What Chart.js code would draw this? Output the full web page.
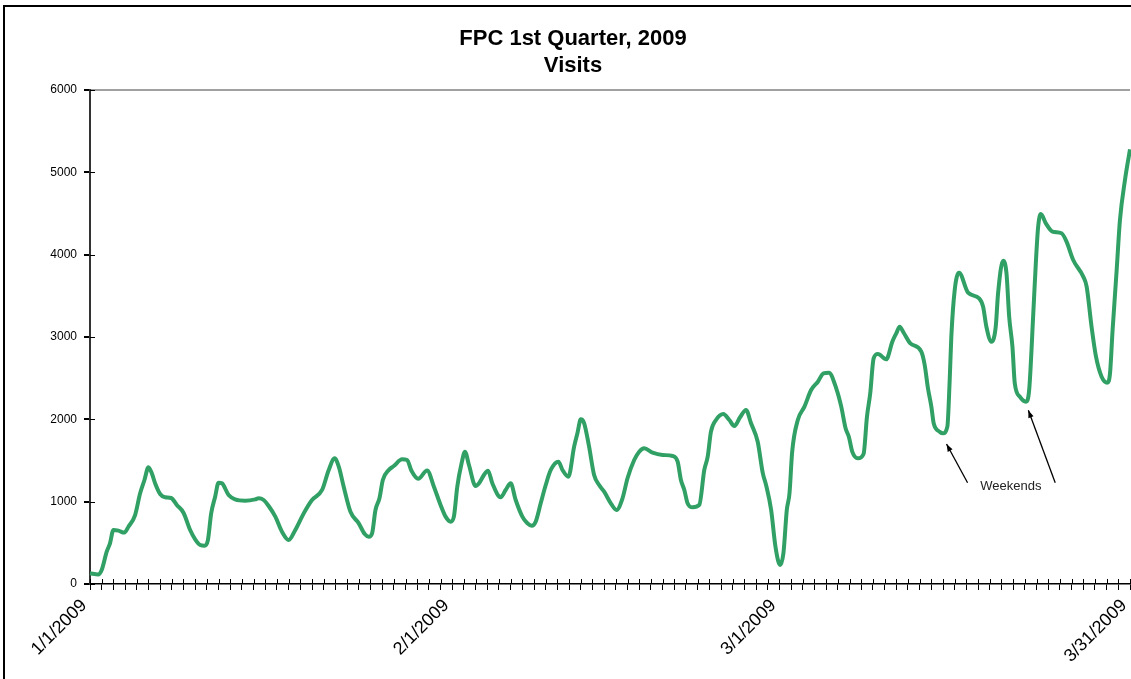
<!DOCTYPE html>
<html>
<head>
<meta charset="utf-8">
<title>FPC 1st Quarter, 2009 - Visits</title>
<script src="https://cdn.jsdelivr.net/npm/chart.js@4.4.1/dist/chart.umd.min.js"></script>
<style>
  html, body { margin: 0; padding: 0; background: #fff; }
  #wrap { position: relative; width: 1131px; height: 679px; }
  #frame {
    position: absolute; left: 3px; top: 5px; right: -10px; bottom: -10px;
    border-top: 2px solid #000; border-left: 2px solid #000;
    pointer-events: none;
  }
</style>
</head>
<body>
<div id="wrap">
  <canvas id="grafico" width="1131" height="679"></canvas>
  <div id="frame"></div>
</div>
<script>
// dia do trimestre (0 = 1/1/2009) e visitas
const dias = [
  0, 0.7, 1, 1.43, 1.71, 2, 2.43, 2.94, 3.29, 3.86, 4.29, 4.66, 5, 5.29, 5.57, 6, 6.43, 6.94, 7.43, 8,
  8.57, 9, 9.43, 9.8, 10.09, 10.37, 10.71, 11, 11.29, 11.86, 12.43, 13.29, 14.14, 14.43, 14.86, 15.29, 15.86, 16.43, 17, 17.57,
  18.29, 19, 19.86, 20.43, 20.94, 21.29, 21.71, 22.29, 23, 23.51, 23.86, 24.14, 24.43, 24.77, 25.06, 25.57, 26, 26.71, 27.14, 27.51,
  28.09, 28.85, 29.43, 30, 30.43, 30.86, 31.14, 31.43, 31.8, 32.09, 32.43, 33, 33.29, 33.71, 34.06, 34.43, 35.14, 35.57, 36, 36.43,
  37, 37.43, 37.8, 38.14, 38.57, 39, 39.43, 40.09, 40.43, 40.94, 41.43, 41.71, 42, 42.29, 42.71, 43.14, 43.57, 44, 44.57, 45.06,
  45.57, 46, 46.57, 47, 47.43, 48.14, 49, 49.86, 50.29, 50.57, 50.86, 51.14, 51.57, 52.14, 52.57, 52.86, 53.14, 53.57, 54.2, 54.71,
  55.14, 55.63, 56.14, 56.57, 57.14, 57.57, 57.86, 58.29, 58.66, 59.06, 59.34, 59.63, 59.86, 60.09, 60.57, 61.14, 61.71, 62.29, 62.77, 63.23,
  63.86, 64.29, 64.66, 64.94, 65.23, 65.71, 66.2, 66.49, 66.77, 67.06, 67.43, 68.14, 68.66, 69, 69.29, 69.63, 70.2, 71.14, 71.43, 71.71,
  72, 72.2, 72.71, 73, 73.37, 73.57, 73.71, 74, 74.37, 75.14, 76.09, 76.43, 76.71, 77.14, 77.51, 77.71, 78.14, 78.43, 78.66, 78.94,
  79.14, 79.57, 80.09, 80.37, 80.71, 80.94, 81.14, 81.37, 81.8, 82.37, 83.14, 83.57, 84.14, 85, 85.29, 85.71, 86.09, 86.57, 87.06, 87.29,
  87.51, 87.86, 88.14, 88.57, 89
];
const visitas = [
  130, 115, 170, 392, 494, 656, 648, 624, 696, 838, 1101, 1263, 1417, 1344, 1223, 1093, 1053, 1045, 960, 866,
  656, 543, 474, 466, 534, 858, 1060, 1231, 1223, 1081, 1028, 1012, 1028, 1041, 1020, 947, 818, 635, 534, 656,
  858, 1020, 1142, 1385, 1526, 1425, 1182, 878, 737, 607, 575, 616, 899, 1041, 1263, 1385, 1433, 1514, 1506, 1376,
  1279, 1380, 1182, 960, 818, 757, 818, 1182, 1466, 1607, 1445, 1190, 1223, 1324, 1376, 1223, 1053, 1142, 1223, 1020,
  818, 737, 708, 757, 980, 1202, 1385, 1486, 1385, 1303, 1668, 1830, 2000, 1952, 1668, 1324, 1202, 1121, 980, 899,
  1041, 1284, 1506, 1607, 1648, 1595, 1567, 1555, 1486, 1263, 1142, 980, 931, 960, 1385, 1546, 1850, 1992, 2065, 1992,
  1919, 2025, 2113, 1952, 1728, 1350, 1200, 899, 453, 231, 373, 899, 1101, 1607, 1992, 2154, 2356, 2457, 2559, 2567,
  2377, 2154, 1891, 1789, 1607, 1526, 1579, 2032, 2316, 2741, 2794, 2729, 2943, 3045, 3125, 3052, 2923, 2822, 2660, 2377,
  2154, 1952, 1850, 1830, 1911, 2478, 3004, 3571, 3781, 3538, 3470, 3368, 3125, 2943, 3125, 3531, 3927, 3774, 3247, 2882,
  2438, 2275, 2214, 2356, 3247, 3895, 4340, 4494, 4381, 4280, 4260, 4158, 3935, 3733, 3611, 3125, 2761, 2518, 2445, 2559,
  3085, 3814, 4421, 4907, 5280
];

// rótulos do eixo x (dia -> texto)
const diasRotulo = [0, 31, 59, 89];
const rotulosX = ["1/1/2009", "2/1/2009", "3/1/2009", "3/31/2009"];
const ticksY = [0, 1000, 2000, 3000, 4000, 5000, 6000];

// anotação "Weekends"
const notaTexto = "Weekends";
const notaPos = [78.8, 1190];
const setas = [
  [75.1, 1230, 73.3, 1700],
  [82.6, 1230, 80.3, 2110]
];

const fonte = "'Liberation Sans', Arial, sans-serif";

// marcas de escala que cruzam o eixo (estilo Excel)
const marcasCruzadas = {
  id: "marcasCruzadas",
  afterDraw(chart) {
    const ctx = chart.ctx;
    const x = chart.scales.x, y = chart.scales.y;
    ctx.save();
    ctx.strokeStyle = "#000";
    ctx.lineWidth = 1;
    ctx.beginPath();
    x.ticks.forEach((t, i) => {
      const px = Math.round(x.getPixelForTick(i)) + 0.5;
      ctx.moveTo(px, x.top);
      ctx.lineTo(px, x.top - 5);
    });
    y.ticks.forEach((t, i) => {
      const py = Math.round(y.getPixelForTick(i)) + 0.5;
      ctx.moveTo(y.right, py);
      ctx.lineTo(y.right + 5, py);
    });
    ctx.stroke();
    ctx.restore();
  }
};

// o título do original fica um pouco à direita do centro da tela
const deslocaTitulo = {
  id: "deslocaTitulo",
  afterLayout(chart) {
    if (chart.titleBlock) chart.titleBlock.left += 16;
  }
};

const anotacao = {
  id: "anotacao",
  afterDatasetsDraw(chart) {
    const ctx = chart.ctx;
    const x = chart.scales.x, y = chart.scales.y;
    ctx.save();
    ctx.fillStyle = "#222";
    ctx.font = "13px " + fonte;
    ctx.textAlign = "center";
    ctx.textBaseline = "middle";
    ctx.fillText(notaTexto, x.getPixelForValue(notaPos[0]), y.getPixelForValue(notaPos[1]));

    ctx.strokeStyle = "#000";
    ctx.lineWidth = 1.3;
    setas.forEach(s => {
      const x1 = x.getPixelForValue(s[0]), y1 = y.getPixelForValue(s[1]);
      const x2 = x.getPixelForValue(s[2]), y2 = y.getPixelForValue(s[3]);
      ctx.beginPath();
      ctx.moveTo(x1, y1);
      ctx.lineTo(x2, y2);
      ctx.stroke();
      const ang = Math.atan2(y2 - y1, x2 - x1);
      ctx.beginPath();
      ctx.moveTo(x2, y2);
      ctx.lineTo(x2 - 8 * Math.cos(ang - 0.35), y2 - 8 * Math.sin(ang - 0.35));
      ctx.lineTo(x2 - 8 * Math.cos(ang + 0.35), y2 - 8 * Math.sin(ang + 0.35));
      ctx.closePath();
      ctx.fillStyle = "#000";
      ctx.fill();
    });
    ctx.restore();
  }
};

const pontos = dias.map((d, i) => ({ x: d, y: visitas[i] }));

new Chart(document.getElementById("grafico").getContext("2d"), {
  type: "line",
  data: {
    datasets: [{
      label: "Visits",
      data: pontos,
      borderColor: "#31a065",
      borderWidth: 4,
      pointRadius: 0,
      fill: false,
      clip: false,
      cubicInterpolationMode: "monotone"
    }]
  },
  options: {
    responsive: false,
    animation: false,
    layout: { padding: { left: 0, right: 1, top: 0, bottom: 0 } },
    plugins: {
      legend: { display: false },
      tooltip: { enabled: false },
      title: {
        display: true,
        text: ["FPC 1st Quarter, 2009", "Visits"],
        color: "#000",
        font: { family: fonte, size: 22, weight: "bold", lineHeight: 1.25 },
        padding: { top: 25, bottom: 10 }
      }
    },
    scales: {
      x: {
        type: "linear",
        min: 0,
        max: 89,
        afterFit: s => { s.height = 95; s.paddingRight = 0; },
        border: { color: "#000", width: 1.5 },
        grid: { drawOnChartArea: false, tickColor: "#000", tickLength: 6 },
        ticks: {
          stepSize: 1,
          maxTicksLimit: 200,
          autoSkip: false,
          minRotation: 45,
          maxRotation: 45,
          padding: 5,
          labelOffset: -6,
          color: "#000",
          font: { family: fonte, size: 18 },
          callback: v => {
            const k = diasRotulo.indexOf(v);
            return k >= 0 ? rotulosX[k] : "";
          }
        }
      },
      y: {
        min: 0,
        max: 6000,
        afterFit: s => { s.width = 90; },
        afterBuildTicks: s => { s.ticks = ticksY.map(v => ({ value: v })); },
        border: { color: "#333", width: 2 },
        grid: {
          drawOnChartArea: true,
          color: c => (c.tick && c.tick.value === 6000 ? "#a0a0a0" : "rgba(0,0,0,0)"),
          lineWidth: 2,
          tickColor: "#000",
          tickLength: 6
        },
        ticks: {
          padding: 7,
          color: "#000",
          font: { family: fonte, size: 12 },
          callback: v => String(v)
        }
      }
    }
  },
  plugins: [marcasCruzadas, deslocaTitulo, anotacao]
});
</script>
</body>
</html>
